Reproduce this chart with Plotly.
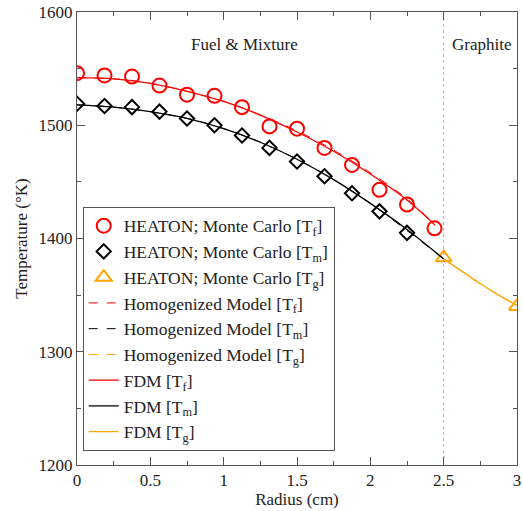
import plotly.graph_objects as go

# ---------------- data ----------------
mc_r_f = [0.0, 0.1875, 0.375, 0.5625, 0.75, 0.9375, 1.125, 1.3125, 1.5, 1.6875, 1.875, 2.0625, 2.25, 2.4375]
mc_T_f = [1546, 1544, 1543, 1535, 1527, 1526, 1516, 1499, 1497, 1480, 1465, 1443, 1430, 1409]

mc_r_m = [0.0, 0.1875, 0.375, 0.5625, 0.75, 0.9375, 1.125, 1.3125, 1.5, 1.6875, 1.875, 2.0625, 2.25]
mc_T_m = [1519, 1517, 1516, 1512, 1506, 1500, 1491, 1480, 1468, 1455, 1440, 1424, 1405]

mc_r_g = [2.5, 3.0]
mc_T_g = [1383, 1340]

hom_r_f = [0.0, 0.25, 0.5, 0.75, 1.0, 1.25, 1.5, 1.75, 2.0, 2.25, 2.44]
hom_T_f = [1542, 1541, 1537, 1530, 1521, 1509, 1495, 1478, 1458, 1435, 1412]
hom_r_m = [0.0, 0.25, 0.5, 0.75, 1.0, 1.25, 1.5, 1.75, 2.0, 2.25, 2.5]
hom_T_m = [1518, 1516, 1512, 1506, 1497, 1485, 1470, 1452, 1431, 1407, 1382]
hom_r_g = [2.5, 2.625, 2.75, 2.875, 3.0]
hom_T_g = [1382, 1371, 1360, 1350, 1341]

fdm_r_f = [0.0, 0.25, 0.5, 0.75, 1.0, 1.25, 1.5, 1.75, 2.0, 2.25, 2.44]
fdm_T_f = [1542, 1541, 1537, 1530, 1521, 1509, 1494, 1477, 1457, 1434, 1412]
fdm_r_m = [0.0, 0.25, 0.5, 0.75, 1.0, 1.25, 1.5, 1.75, 2.0, 2.25, 2.5]
fdm_T_m = [1518, 1516, 1512, 1506, 1497, 1485, 1470, 1452, 1431, 1408, 1382]
fdm_r_g = [2.5, 2.625, 2.75, 2.875, 3.0]
fdm_T_g = [1382, 1371, 1360, 1350, 1341]

boundary_r = 2.5
region_labels = ["Fuel &amp; Mixture", "Graphite"]
region_x = [1.14, 2.755]
region_y = [1571, 1571]

RED = "#ff0000"
BLK = "#000000"
ORG = "#ffa500"
FONT = "Times New Roman, Liberation Serif, DejaVu Serif, serif"
TXT = "#222222"

fig = go.Figure()

# Monte Carlo markers
fig.add_trace(go.Scatter(x=mc_r_f, y=mc_T_f, mode="markers",
                         name="HEATON; Monte Carlo [T<sub>f</sub>]",
                         marker=dict(symbol="circle-open", size=14, color=RED, line=dict(width=2, color=RED))))
fig.add_trace(go.Scatter(x=mc_r_m, y=mc_T_m, mode="markers",
                         name="HEATON; Monte Carlo [T<sub>m</sub>]",
                         marker=dict(symbol="diamond-open", size=11, color=BLK, line=dict(width=2, color=BLK))))
fig.add_trace(go.Scatter(x=mc_r_g, y=mc_T_g, mode="markers",
                         name="HEATON; Monte Carlo [T<sub>g</sub>]",
                         marker=dict(symbol="triangle-up-open", size=14, color=ORG, line=dict(width=2, color=ORG))))

# Homogenized model (dashed)
fig.add_trace(go.Scatter(x=hom_r_f, y=hom_T_f, mode="lines", line_shape="spline",
                         name="Homogenized Model [T<sub>f</sub>]",
                         line=dict(color=RED, width=1, dash="dash")))
fig.add_trace(go.Scatter(x=hom_r_m, y=hom_T_m, mode="lines", line_shape="spline",
                         name="Homogenized Model [T<sub>m</sub>]",
                         line=dict(color=BLK, width=1, dash="dash")))
fig.add_trace(go.Scatter(x=hom_r_g, y=hom_T_g, mode="lines", line_shape="spline",
                         name="Homogenized Model [T<sub>g</sub>]",
                         line=dict(color=ORG, width=1, dash="dash")))

# FDM (solid)
fig.add_trace(go.Scatter(x=fdm_r_f, y=fdm_T_f, mode="lines", line_shape="spline",
                         name="FDM [T<sub>f</sub>]", line=dict(color=RED, width=1.3)))
fig.add_trace(go.Scatter(x=fdm_r_m, y=fdm_T_m, mode="lines", line_shape="spline",
                         name="FDM [T<sub>m</sub>]", line=dict(color=BLK, width=1.3)))
fig.add_trace(go.Scatter(x=fdm_r_g, y=fdm_T_g, mode="lines", line_shape="spline",
                         name="FDM [T<sub>g</sub>]", line=dict(color=ORG, width=1.3)))

fig.add_vline(x=boundary_r, line=dict(color="rgba(255,0,0,0.45)", width=1, dash="dot"), layer="below")

for txt, xx, yy in zip(region_labels, region_x, region_y):
    fig.add_annotation(x=xx, y=yy, text=txt, showarrow=False,
                       font=dict(family=FONT, size=17, color=TXT))

axis_common = dict(showline=True, linecolor="#555", linewidth=1, mirror="ticks",
                   ticks="inside", ticklen=8, tickcolor="#555", tickwidth=1,
                   showgrid=False, zeroline=False, automargin=False,
                   tickfont=dict(family=FONT, size=17, color=TXT))

fig.update_xaxes(range=[0, 3], dtick=0.5, tick0=0,
                 title=dict(text="Radius (cm)", font=dict(family=FONT, size=17, color=TXT), standoff=2),
                 minor=dict(ticks="inside", ticklen=4, tickcolor="#555", dtick=0.25, showgrid=False),
                 **axis_common)
fig.update_yaxes(range=[1200, 1600], dtick=100, tick0=1200,
                 title=dict(text="Temperature (°K)", font=dict(family=FONT, size=17, color=TXT), standoff=6),
                 minor=dict(ticks="inside", ticklen=4, tickcolor="#555", dtick=50, showgrid=False),
                 **axis_common)

fig.update_layout(
    width=523, height=511,
    margin=dict(l=77, r=6, t=12, b=46, autoexpand=False),
    paper_bgcolor="white", plot_bgcolor="white",
    showlegend=True,
    legend=dict(x=0.013, y=0.57, xanchor="left", yanchor="top",
                bgcolor="white", bordercolor="#555", borderwidth=1,
                font=dict(family=FONT, size=17.5, color=TXT),
                traceorder="normal", tracegroupgap=0, itemwidth=30),
    font=dict(family=FONT),
)

fig.write_html("out.html",
               config={"displayModeBar": False},
               post_script="document.body.style.margin='0';document.body.style.overflow='hidden';")
